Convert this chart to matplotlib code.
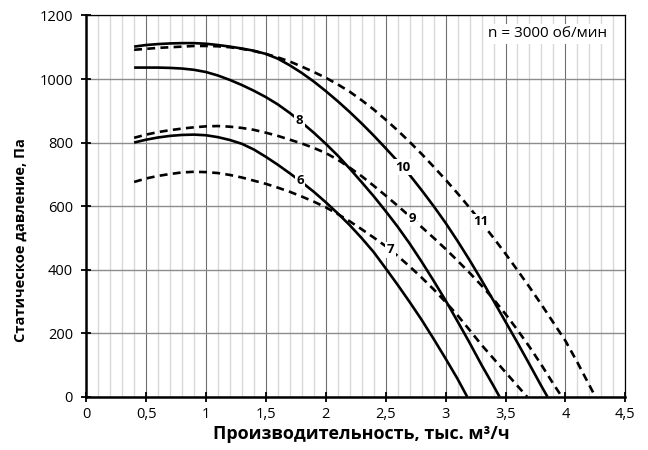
import matplotlib.pyplot as plt
from matplotlib.ticker import MultipleLocator

plt.rcParams['font.family'] = ['Open Sans', 'DejaVu Sans']

# Fan curves, n = 3000 rpm: flow (thousand m3/h) vs static pressure (Pa)
x6 = [0.4, 0.5, 0.6, 0.7, 0.8, 0.9, 1.0, 1.1, 1.2, 1.3, 1.4, 1.5, 1.6, 1.7, 1.8, 1.9,
      2.0, 2.1, 2.2, 2.3, 2.4, 2.5, 2.6, 2.7, 2.8, 2.9, 3.0, 3.1, 3.18]
p6 = [800, 809, 816, 821, 824, 825, 823, 817, 808, 796, 778, 755, 730, 703, 675, 645,
      612, 577, 540, 499, 455, 404, 352, 298, 242, 182, 120, 56, 0]

x7 = [0.4, 0.5, 0.6, 0.7, 0.8, 0.9, 1.0, 1.1, 1.2, 1.3, 1.4, 1.5, 1.6, 1.7, 1.8, 1.9,
      2.0, 2.1, 2.2, 2.3, 2.4, 2.5, 2.6, 2.7, 2.8, 2.9, 3.0, 3.1, 3.2, 3.3, 3.4, 3.5,
      3.6, 3.68]
p7 = [676, 687, 695, 701, 706, 708, 707, 704, 698, 690, 680, 670, 658, 645, 630, 614,
      596, 575, 552, 527, 501, 474, 443, 410, 375, 338, 298, 256, 210, 163, 120, 77,
      34, 0]

x8 = [0.4, 0.5, 0.6, 0.7, 0.8, 0.9, 1.0, 1.1, 1.2, 1.3, 1.4, 1.5, 1.6, 1.7, 1.8, 1.9,
      2.0, 2.1, 2.2, 2.3, 2.4, 2.5, 2.6, 2.7, 2.8, 2.9, 3.0, 3.1, 3.2, 3.3, 3.4, 3.45]
p8 = [1036, 1036, 1036, 1035, 1033, 1029, 1022, 1011, 997, 981, 963, 943, 920, 893, 863, 831,
      796, 759, 718, 675, 631, 584, 535, 482, 425, 365, 303, 237, 170, 100, 34, 0]

x9 = [0.4, 0.5, 0.6, 0.7, 0.8, 0.9, 1.0, 1.1, 1.2, 1.3, 1.4, 1.5, 1.6, 1.7, 1.8, 1.9,
      2.0, 2.1, 2.2, 2.3, 2.4, 2.5, 2.6, 2.7, 2.8, 2.9, 3.0, 3.1, 3.2, 3.3, 3.4, 3.5,
      3.6, 3.7, 3.8, 3.9, 3.97]
p9 = [815, 825, 833, 839, 844, 848, 851, 852, 850, 846, 840, 831, 821, 809, 797, 783,
      767, 746, 721, 694, 664, 633, 601, 568, 534, 500, 465, 428, 390, 350, 307, 260,
      210, 157, 100, 40, 0]

x10 = [0.4, 0.5, 0.6, 0.7, 0.8, 0.9, 1.0, 1.1, 1.2, 1.3, 1.4, 1.5, 1.6, 1.7, 1.8, 1.9,
       2.0, 2.1, 2.2, 2.3, 2.4, 2.5, 2.6, 2.7, 2.8, 2.9, 3.0, 3.1, 3.2, 3.3, 3.4, 3.5,
       3.6, 3.7, 3.8, 3.85]
p10 = [1102, 1107, 1110, 1112, 1113, 1113, 1111, 1107, 1102, 1096, 1089, 1079, 1064, 1043, 1019, 992,
       962, 930, 896, 860, 822, 782, 741, 698, 650, 600, 547, 490, 430, 367, 302, 236,
       170, 102, 33, 0]

x11 = [0.4, 0.5, 0.6, 0.7, 0.8, 0.9, 1.0, 1.1, 1.2, 1.3, 1.4, 1.5, 1.6, 1.7, 1.8, 1.9,
       2.0, 2.1, 2.2, 2.3, 2.4, 2.5, 2.6, 2.7, 2.8, 2.9, 3.0, 3.1, 3.2, 3.3, 3.4, 3.5,
       3.6, 3.7, 3.8, 3.9, 4.0, 4.1, 4.2, 4.25]
p11 = [1092, 1095, 1098, 1100, 1102, 1104, 1104, 1103, 1100, 1095, 1088, 1079, 1068, 1055, 1039, 1022,
       1004, 983, 960, 933, 904, 872, 838, 802, 764, 724, 683, 640, 595, 548, 500, 450,
       398, 345, 290, 233, 176, 108, 36, 0]

curve_labels = ['6', '7', '8', '9', '10', '11']
label_x = [1.785, 2.54, 1.78, 2.72, 2.64, 3.29]
label_y = [680, 462, 870, 562, 722, 550]

xtick_vals = [0, 0.5, 1, 1.5, 2, 2.5, 3, 3.5, 4, 4.5]
xtick_labels = ['0', '0,5', '1', '1,5', '2', '2,5', '3', '3,5', '4', '4,5']

fig = plt.figure(figsize=(6.48, 4.5), dpi=100)
ax = fig.add_axes([0.133, 0.1184, 0.832, 0.8472])

solid = dict(color='black', lw=1.9, solid_capstyle='butt', solid_joinstyle='round')
dashed = dict(color='black', lw=1.9, linestyle=(0, (3, 2)), dash_capstyle='butt')

ax.plot(x6, p6, **solid)
ax.plot(x7, p7, **dashed)
ax.plot(x8, p8, **solid)
ax.plot(x9, p9, **dashed)
ax.plot(x10, p10, **solid)
ax.plot(x11, p11, **dashed)

for lab, lx, ly in zip(curve_labels, label_x, label_y):
    ax.text(lx, ly, lab, fontsize=9.5, fontweight='bold', ha='center', va='center',
            bbox=dict(facecolor='white', edgecolor='none', pad=1.0), zorder=5)

ax.text(4.35, 1142, 'n = 3000 об/мин', fontsize=11, ha='right', va='center',
        bbox=dict(facecolor='white', edgecolor='none', pad=2.0), zorder=5)

ax.set_xlim(0, 4.5)
ax.set_ylim(0, 1200)
ax.set_xticks(xtick_vals)
ax.set_xticklabels(xtick_labels)
ax.yaxis.set_major_locator(MultipleLocator(200))
ax.xaxis.set_minor_locator(MultipleLocator(0.1))

ax.set_axisbelow(True)
ax.grid(axis='x', which='minor', color='#d9d9d9', lw=1.0)
ax.grid(axis='x', which='major', color='#6f6f6f', lw=0.8)
ax.grid(axis='y', which='major', color='#8c8c8c', lw=1.0)

ax.tick_params(axis='both', which='major', direction='inout', length=7, width=1.3,
               labelsize=10.5)
ax.tick_params(axis='y', pad=6)
ax.tick_params(axis='x', pad=4)
ax.tick_params(axis='x', which='minor', length=0)

for side in ['left', 'bottom']:
    ax.spines[side].set_linewidth(1.8)
for side in ['top', 'right']:
    ax.spines[side].set_linewidth(0.9)

ax.set_xlabel('Производительность, тыс. м³/ч', fontsize=13, fontweight='bold')
ax.xaxis.set_label_coords(0.51, -0.075)
ax.set_ylabel('Статическое давление, Па', fontsize=10.5, fontweight='bold')
ax.yaxis.set_label_coords(-0.108, 0.41)

fig.savefig('out.png', dpi=100)
